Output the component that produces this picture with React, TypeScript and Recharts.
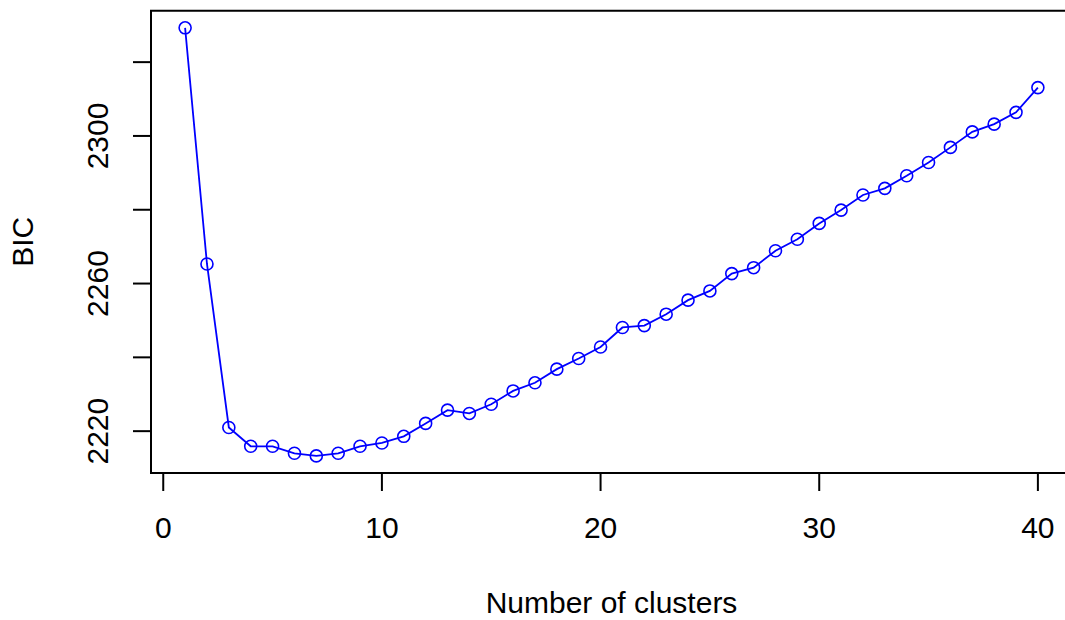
import { LineChart, Line, XAxis, YAxis, ReferenceArea, Label } from "recharts"

// number of clusters (k) and the BIC value for each
const clusters = [
  1, 2, 3, 4, 5, 6, 7, 8, 9, 10, 11, 12, 13, 14, 15, 16, 17, 18, 19, 20,
  21, 22, 23, 24, 25, 26, 27, 28, 29, 30, 31, 32, 33, 34, 35, 36, 37, 38, 39, 40,
]
const bic = [
  2329.3, 2265.3, 2221.0, 2215.9, 2215.9, 2214.0, 2213.3, 2214.0, 2215.9, 2216.8,
  2218.6, 2222.1, 2225.7, 2224.8, 2227.3, 2230.9, 2233.1, 2236.8, 2239.7, 2242.8,
  2248.1, 2248.6, 2251.7, 2255.5, 2258.0, 2262.7, 2264.3, 2268.9, 2272.0, 2276.3,
  2279.9, 2284.0, 2285.8, 2289.2, 2292.8, 2296.9, 2301.1, 2303.2, 2306.4, 2313.1,
]

const xTicks = [0, 10, 20, 30, 40]
const yTicks = [2220, 2240, 2260, 2280, 2300, 2320]
const yTickLabels = [2220, 2260, 2300]

const FONT = "'Liberation Sans', Arial, sans-serif"
const FONT_SIZE = 30
const BLUE = "#0000ff"

// R-style axis padding: 4% of the data range on each side
const pad = (lo: number, hi: number): [number, number] => {
  const d = (hi - lo) * 0.04
  return [lo - d, hi + d]
}
const xDomain = pad(Math.min(...clusters), Math.max(...clusters))
const yDomain = pad(Math.min(...bic), Math.max(...bic))

const data = clusters.map((k, i) => ({ k, bic: bic[i] }))

const YTick = ({ x, y, payload }: { x: number; y: number; payload: { value: number } }) => {
  if (!yTickLabels.includes(payload.value)) return null
  return (
    <text
      transform={`translate(${x},${y}) rotate(-90)`}
      textAnchor="middle"
      fontSize={FONT_SIZE}
      fontFamily={FONT}
      fill="#000"
    >
      {payload.value}
    </text>
  )
}

export default function App() {
  return (
    <div style={{ position: "absolute", left: 0, top: 0, width: 1065, height: 620, overflow: "hidden", background: "#fff" }}>
      <LineChart
        width={1072}
        height={620}
        data={data}
        margin={{ top: 10.7, right: 0, bottom: 0, left: 0 }}
      >
        <XAxis
          dataKey="k"
          type="number"
          domain={xDomain}
          allowDataOverflow
          ticks={xTicks}
          height={147}
          axisLine={false}
          tickSize={18}
          tickMargin={26}
          tickLine={{ stroke: "#000", strokeWidth: 2 }}
          tick={{ fontSize: FONT_SIZE, fontFamily: FONT, fill: "#000" }}
        >
          <Label
            content={({ viewBox }: any) => (
              <text
                x={viewBox.x + viewBox.width / 2}
                y={viewBox.y + 140}
                textAnchor="middle"
                fontSize={FONT_SIZE}
                fontFamily={FONT}
                fill="#000"
              >
                Number of clusters
              </text>
            )}
          />
        </XAxis>
        <YAxis
          type="number"
          domain={yDomain}
          allowDataOverflow
          ticks={yTicks}
          width={151}
          axisLine={false}
          tickSize={18}
          tickMargin={25}
          tickLine={{ stroke: "#000", strokeWidth: 2 }}
          tick={YTick}
        >
          <Label
            content={({ viewBox }: any) => (
              <text
                transform={`translate(33,${viewBox.y + viewBox.height / 2}) rotate(-90)`}
                textAnchor="middle"
                fontSize={FONT_SIZE}
                fontFamily={FONT}
                fill="#000"
              >
                BIC
              </text>
            )}
          />
        </YAxis>
        <ReferenceArea
          x1={xDomain[0]}
          x2={xDomain[1]}
          y1={yDomain[0]}
          y2={yDomain[1]}
          fill="none"
          stroke="#000"
          strokeWidth={2}
        />
        <Line
          dataKey="bic"
          type="linear"
          stroke={BLUE}
          strokeWidth={1.8}
          dot={{ r: 6, stroke: BLUE, strokeWidth: 1.6, fill: "none" }}
          activeDot={false}
          isAnimationActive={false}
        />
      </LineChart>
    </div>
  )
}
